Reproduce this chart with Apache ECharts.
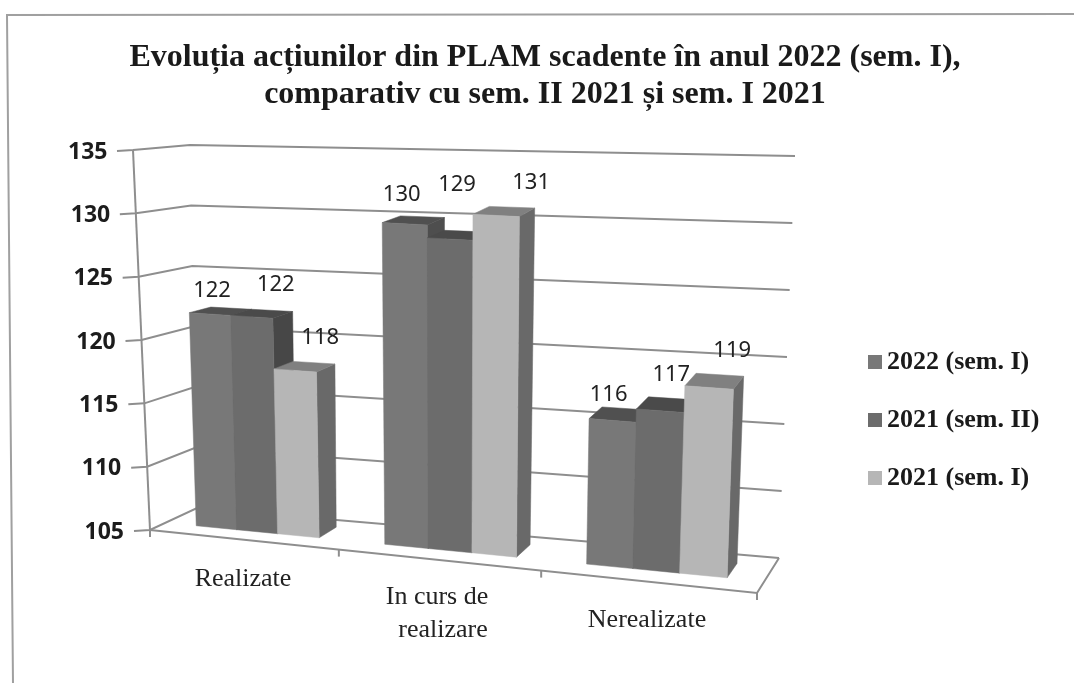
<!DOCTYPE html>
<html>
<head>
<meta charset="utf-8">
<title>PLAM</title>
<script src="https://cdn.jsdelivr.net/npm/echarts@6/dist/echarts.min.js"></script>
<style>
  html, body { margin: 0; padding: 0; background: #fff; }
  #chart { width: 1074px; height: 683px; }
</style>
</head>
<body>
<div id="chart"></div>
<script>
  const categories = ['Realizate', 'In curs de\nrealizare', 'Nerealizate']
  const seriesNames = ['2022 (sem. I)', '2021 (sem. II)', '2021 (sem. I)']
  const values2022s1 = [122, 130, 116]
  const values2021s2 = [122, 129, 117]
  const values2021s1 = [118, 131, 119]
  const yTicks = [105, 110, 115, 120, 125, 130, 135]

  const allValues = [values2022s1, values2021s2, values2021s1]
  const serif = '"Liberation Serif", serif'
  const sans = '"Noto Sans", sans-serif'
  const lineColor = '#8e8e8e'

  // colours per series: front, side, top
  const faces = [
    { front: '#787878', side: '#4e4e4e', top: '#505050' },
    { front: '#6c6c6c', side: '#474747', top: '#4a4a4a' },
    { front: '#b6b6b6', side: '#696969', top: '#808080' }
  ]
  // label nudges from the bar top, the original labels sit loosely
  const labelNudge = [
    [[2, -23], [-3, -29], [-4, -26]],
    [[24, -32], [7, -54], [11, -36]],
    [[25, -33], [35, -33], [23, -37]]
  ]
  // where the corners of the 3d box land on the page
  const box = {
    fl: [150, 530], fr: [757, 593], bl: [197, 508], br: [779, 558],
    flt: [133, 150], frt: [772, 185], blt: [190, 145], brt: [795, 156]
  }
  const barDepth = [0.33, 0.75]
  const groupWidth = 0.66

  function mix (a, b, t) {
    return [a[0] + (b[0] - a[0]) * t, a[1] + (b[1] - a[1]) * t]
  }

  // grid pixel + depth -> page position on the slanted box
  function project (rect, px, py, depth) {
    let u = (px - rect.x) / rect.width
    u = u - 0.1 * u * (1 - u)
    const v = (rect.y + rect.height - py) / rect.height
    const bottom = mix(mix(box.fl, box.fr, u), mix(box.bl, box.br, u), depth)
    const top = mix(mix(box.flt, box.frt, u), mix(box.blt, box.brt, u), depth)
    return mix(bottom, top, v)
  }

  function polygon (points, color) {
    return { type: 'polygon', shape: { points }, style: { fill: color, stroke: color, lineWidth: 0.5 } }
  }

  function line (points, width) {
    return { type: 'polyline', shape: { points }, style: { fill: null, stroke: lineColor, lineWidth: width || 2 } }
  }

  function renderWalls (params, api) {
    const rect = params.coordSys
    const py = api.coord([0, api.value(1)])[1]
    const left = rect.x
    const right = rect.x + rect.width
    const a = project(rect, left, py, 0)
    const children = [
      line([[a[0] - 16, a[1] + 1], a, project(rect, left, py, 1), project(rect, right, py, 1)])
    ]
    if (params.dataIndex === 0) {
      const topY = rect.y
      children.push(line([project(rect, left, topY, 0), a]))
      children.push(line([a, project(rect, right, py, 0), project(rect, right, py, 1)]))
      for (let i = 0; i <= categories.length; i++) {
        const p = project(rect, left + rect.width * i / categories.length, py, 0)
        children.push(line([p, [p[0], p[1] + 7]]))
      }
    }
    return { type: 'group', children }
  }

  function renderBars (k) {
    return function (params, api) {
      const rect = params.coordSys
      const i = api.value(0)
      const c = api.coord([i, api.value(1)])
      const base = api.coord([i, yTicks[0]])[1]
      const group = api.size([1, 0])[0] * groupWidth
      const x0 = c[0] - group / 2 + k * group / 3
      const x1 = x0 + group / 3
      const w0 = barDepth[0]
      const w1 = barDepth[1]
      const topFront = [project(rect, x0, c[1], w0), project(rect, x1, c[1], w0)]
      const topBack = [project(rect, x0, c[1], w1), project(rect, x1, c[1], w1)]
      const baseFront = [project(rect, x0, base, w0), project(rect, x1, base, w0)]
      const baseBack = project(rect, x1, base, w1)
      const mid = [(topFront[0][0] + topFront[1][0]) / 2, (topFront[0][1] + topFront[1][1]) / 2]
      return {
        type: 'group',
        children: [
          polygon([topFront[1], topBack[1], baseBack, baseFront[1]], faces[k].side),
          polygon([topFront[0], topBack[0], topBack[1], topFront[1]], faces[k].top),
          polygon([topFront[0], topFront[1], baseFront[1], baseFront[0]], faces[k].front),
          {
            type: 'text',
            z2: 10,
            style: {
              x: mid[0] + labelNudge[k][i][0],
              y: mid[1] + labelNudge[k][i][1],
              text: String(api.value(1)),
              fill: '#222',
              font: '22px ' + sans,
              align: 'center',
              verticalAlign: 'middle'
            }
          }
        ]
      }
    }
  }

  // the tick labels step along the slanted wall, so each gets its own right padding
  const yRich = {}
  yTicks.forEach(v => {
    yRich['t' + v] = { padding: [0, (v - yTicks[0]) * 0.55, 0, 0], fontSize: 23, fontWeight: 700, fontFamily: sans, color: '#1c1c1c' }
  })

  // the category labels follow the sloping floor: an empty spacer line pushes each one down,
  // a right padding per text line moves it sideways
  const xDrop = [31, 49, 72]
  const xShift = [[8], [20, 8], [0]]
  const xRich = {}
  xDrop.forEach((d, i) => {
    xRich['s' + i] = { height: d, lineHeight: d, fontSize: 1 }
    xShift[i].forEach((pad, n) => {
      xRich['c' + i + n] = { padding: [0, pad, 0, 0], fontSize: 26, fontFamily: serif, color: '#222', lineHeight: 33 }
    })
  })

  const chart = echarts.init(document.getElementById('chart'))
  chart.setOption({
    animation: false,
    backgroundColor: '#fff',
    title: {
      text: 'Evoluția acțiunilor din PLAM scadente în anul 2022 (sem. I),\ncomparativ cu sem. II 2021 și sem. I 2021',
      left: 540,
      top: 34,
      textAlign: 'center',
      textStyle: { fontFamily: serif, fontSize: 32, fontWeight: 700, color: '#1a1a1a', lineHeight: 37 }
    },
    legend: {
      data: seriesNames,
      orient: 'vertical',
      left: 868,
      top: 349,
      padding: 0,
      itemWidth: 14,
      itemHeight: 14,
      itemGap: 32,
      icon: 'rect',
      textStyle: { fontFamily: serif, fontSize: 26, fontWeight: 700, color: '#1a1a1a' }
    },
    grid: { left: 147, top: 152, width: 600, height: 380 },
    xAxis: {
      type: 'category',
      data: categories,
      axisLine: { show: false },
      axisTick: { show: false },
      axisLabel: {
        interval: 0,
        margin: 0,
        formatter: function (value, i) {
          const lines = value.split('\n').map((p, n) => '{c' + i + n + '|' + p + '}')
          return ['{s' + i + '| }'].concat(lines).join('\n')
        },
        rich: xRich
      }
    },
    yAxis: {
      type: 'value',
      min: 105,
      max: 135,
      interval: 5,
      axisLine: { show: false },
      axisTick: { show: false },
      splitLine: { show: false },
      axisLabel: {
        margin: 23,
        formatter: value => '{t' + value + '|' + value + '}',
        rich: yRich
      }
    },
    graphic: [{
      type: 'polyline',
      silent: true,
      shape: { points: [[13, 683], [7, 15], [1074, 14]] },
      style: { fill: null, stroke: '#a0a0a0', lineWidth: 2 }
    }],
    series: [
      {
        type: 'custom',
        name: 'walls',
        silent: true,
        renderItem: renderWalls,
        encode: { x: 0, y: 1 },
        data: yTicks.map(v => [0, v])
      }
    ].concat(seriesNames.map((name, k) => ({
      type: 'custom',
      name,
      silent: true,
      itemStyle: { color: faces[k].front },
      renderItem: renderBars(k),
      encode: { x: 0, y: 1 },
      data: allValues[k].map((v, i) => [i, v])
    })))
  })
  window.addEventListener('resize', () => chart.resize())
</script>
</body>
</html>
